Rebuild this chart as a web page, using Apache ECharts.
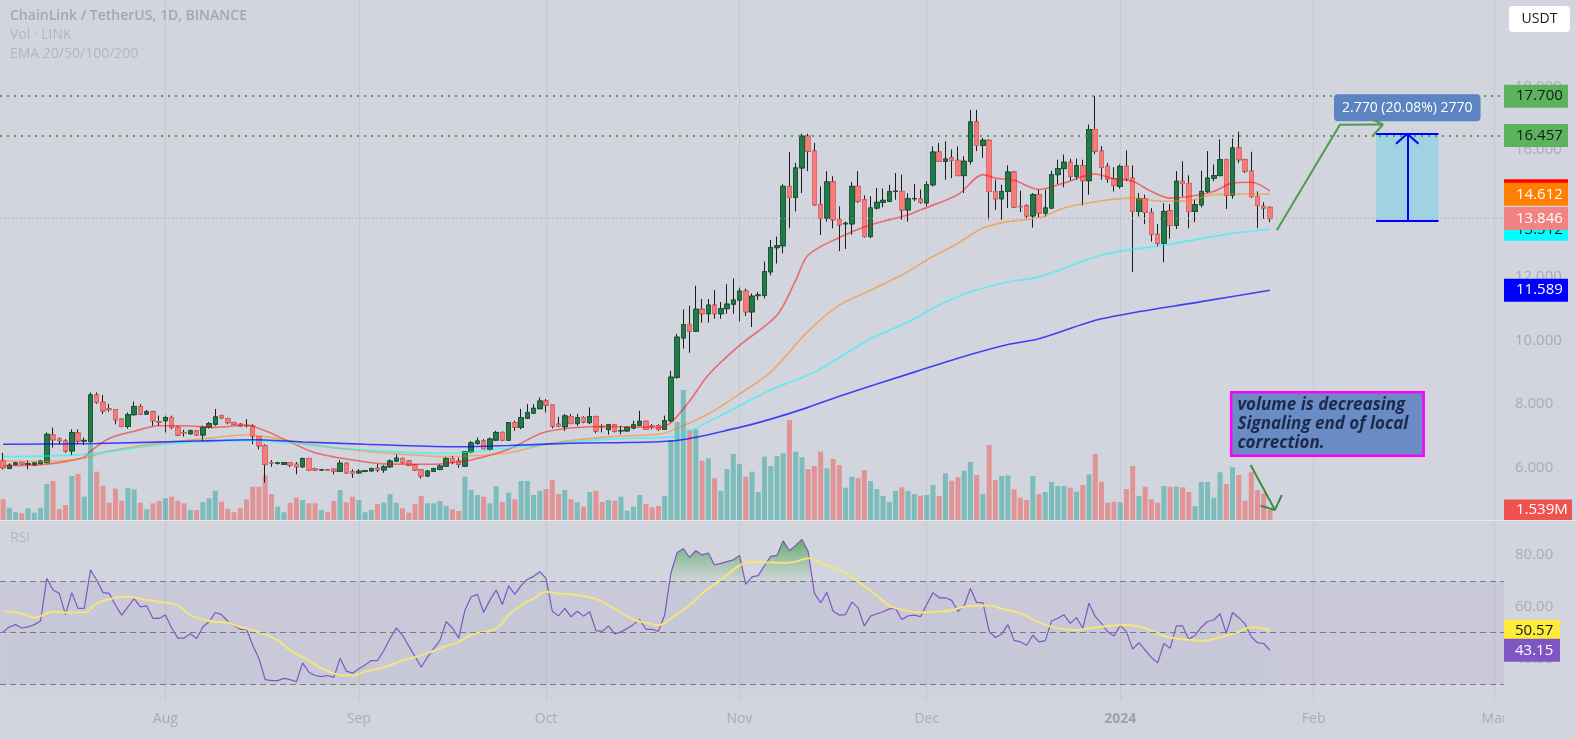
<!DOCTYPE html>
<html>
<head>
<meta charset="utf-8">
<script src="https://cdn.jsdelivr.net/npm/echarts@6/dist/echarts.min.js"></script>
<style>
html,body{margin:0;padding:0;background:#d2d5dd;}
#c{width:1576px;height:739px;}
</style>
</head>
<body>
<div id="c"></div>
<script>
const FONT = "'Open Sans', 'Liberation Sans', sans-serif";
const BG = '#d2d5dd';

// ---- data ----
const startDate = '2023-07-06';
const categoryCount = 241;

const opens = [
6.21,5.98,6.10,6.16,6.11,6.09,6.13,6.16,7.03,6.90,
6.84,6.53,7.09,6.84,6.82,8.29,8.06,7.85,7.83,7.53,
7.30,7.67,7.92,7.69,7.76,7.45,7.48,7.58,7.27,7.11,
7.07,7.16,7.03,7.27,7.37,7.64,7.55,7.42,7.37,7.33,
7.32,6.98,6.69,6.16,6.14,6.11,6.16,6.11,6.03,6.29,
5.97,5.93,5.93,5.95,5.89,6.14,5.87,5.84,5.89,5.90,
5.98,5.93,6.03,6.21,6.29,6.21,6.08,5.93,5.74,5.89,
5.95,6.05,6.29,6.21,6.05,6.50,6.76,6.84,6.58,6.87,
7.11,6.87,7.42,7.27,7.56,7.72,7.86,8.10,7.97,7.37,
7.29,7.61,7.39,7.58,7.42,7.61,7.30,7.20,7.35,7.16,
7.16,7.25,7.34,7.46,7.31,7.32,7.21,7.48,8.85,10.09,
10.51,10.30,10.99,10.85,11.12,10.85,11.01,11.15,11.28,11.56,
10.91,11.42,11.43,12.17,12.93,12.99,14.86,14.51,15.44,16.44,
15.97,14.28,13.86,15.00,13.81,13.68,13.68,14.86,14.44,13.28,
14.18,14.36,14.39,14.70,14.70,14.12,14.47,14.46,14.34,14.91,
15.94,15.65,15.76,15.68,15.20,15.65,16.89,16.15,16.31,14.70,
14.47,14.70,15.31,14.23,14.25,13.93,14.60,14.02,14.18,15.23,
15.42,15.62,15.18,15.51,15.04,16.65,15.97,15.49,15.10,14.86,
15.49,15.12,14.07,14.47,14.04,13.35,13.07,14.09,13.63,15.02,
14.95,14.07,14.28,14.70,15.12,15.20,15.70,14.58,16.07,15.70,
15.34,14.54,14.23,14.20];

const closes = [
6.00,6.08,6.15,6.12,6.12,6.15,6.21,7.05,6.88,6.85,
6.53,7.11,6.84,6.86,8.29,8.06,7.79,7.83,7.51,7.30,
7.67,7.93,7.69,7.76,7.48,7.44,7.58,7.27,7.03,7.10,
7.16,7.03,7.27,7.39,7.60,7.57,7.42,7.37,7.32,7.32,
7.00,6.69,6.11,6.15,6.15,6.16,6.08,6.03,6.29,5.93,
5.93,5.94,5.92,5.89,6.14,5.84,5.82,5.89,5.90,5.97,
5.93,6.03,6.21,6.30,6.16,6.08,5.93,5.74,5.89,5.97,
6.05,6.29,6.18,6.11,6.50,6.78,6.84,6.60,6.90,7.11,
6.87,7.42,7.28,7.58,7.74,7.87,8.10,7.97,7.31,7.31,
7.63,7.39,7.58,7.44,7.61,7.16,7.29,7.35,7.15,7.17,
7.27,7.35,7.46,7.21,7.30,7.21,7.48,8.85,10.11,10.51,
10.30,10.99,10.85,11.12,10.85,11.01,11.15,11.28,11.56,10.91,
11.40,11.44,12.17,12.93,12.99,14.86,14.51,15.44,16.44,15.97,
14.28,13.86,15.00,13.81,13.65,13.70,14.86,14.39,13.28,14.18,
14.36,14.42,14.70,14.71,14.12,14.47,14.48,14.36,14.91,15.94,
15.65,15.72,15.68,15.20,15.65,16.89,16.15,16.31,14.70,14.47,
14.70,15.31,14.21,14.22,13.93,14.60,14.02,14.18,15.23,15.42,
15.62,15.18,15.51,15.04,16.65,15.97,15.46,15.10,14.89,15.49,
15.10,14.07,14.47,14.04,13.35,13.07,14.07,13.63,15.02,14.95,
14.07,14.28,14.70,15.12,15.20,15.70,14.58,16.07,15.70,15.34,
14.54,14.26,14.18,13.846];

const lows = [
5.95,5.95,6.07,6.10,5.95,6.06,6.10,6.14,6.63,6.74,
6.47,6.39,6.74,6.71,6.79,8.01,7.69,7.76,7.37,7.27,
7.23,7.64,7.66,7.66,7.32,7.32,7.11,7.21,7.00,6.98,
7.04,7.01,6.84,7.23,7.32,7.55,7.37,7.35,7.30,7.27,
6.74,6.58,5.53,6.03,6.10,6.09,6.01,5.79,6.00,5.90,
5.90,5.90,5.90,5.79,5.86,5.82,5.68,5.80,5.86,5.88,
5.86,5.84,6.00,6.18,6.13,6.05,5.90,5.66,5.70,5.86,
5.92,6.03,6.11,6.00,6.03,6.45,6.73,6.58,6.53,6.84,
6.84,6.84,7.16,7.21,7.53,7.69,7.84,7.74,7.24,7.29,
7.16,7.37,7.32,7.40,7.37,7.09,7.11,7.04,7.11,7.05,
7.13,7.21,7.32,7.19,7.21,7.16,7.19,7.42,8.80,9.75,
9.62,10.28,10.57,10.57,10.69,10.69,10.85,10.85,10.61,10.78,
10.43,11.28,11.33,12.06,12.43,12.75,13.54,14.07,14.65,15.34,
14.25,13.33,13.75,13.54,12.82,12.89,13.33,14.34,13.25,13.23,
14.13,14.20,14.36,14.44,13.81,13.75,14.39,14.31,14.23,14.86,
15.63,15.07,15.12,15.18,14.65,15.55,15.97,15.76,13.81,14.12,
13.81,14.18,14.18,14.05,13.86,13.56,13.88,13.91,14.15,14.93,
14.83,15.04,15.07,14.26,14.60,15.88,15.07,14.97,14.70,14.79,
15.02,12.16,13.91,13.67,13.12,12.96,12.47,13.21,13.52,14.54,
13.54,13.73,14.20,14.65,15.02,15.18,14.15,14.47,15.60,15.28,
14.50,13.54,13.84,13.73];

const highs = [
6.47,6.14,6.18,6.19,6.23,6.18,6.24,7.11,7.26,6.95,
6.90,7.21,7.21,6.95,8.37,8.37,8.29,8.01,7.83,7.53,
7.74,8.08,8.00,7.82,7.79,7.64,7.64,7.64,7.32,7.19,
7.20,7.18,7.32,7.44,7.85,7.67,7.58,7.45,7.40,7.53,
7.37,7.00,6.74,6.24,6.18,6.18,6.18,6.18,6.32,6.32,
6.00,5.96,5.95,5.97,6.24,6.16,5.95,5.95,5.93,6.00,
6.11,6.08,6.26,6.42,6.32,6.24,6.10,5.95,5.93,6.00,
6.10,6.34,6.37,6.32,6.50,6.84,6.95,6.90,6.95,7.16,
7.14,7.42,7.48,7.85,8.00,8.00,8.21,8.16,7.97,7.60,
7.69,7.69,7.69,7.62,7.90,7.64,7.37,7.38,7.38,7.32,
7.30,7.48,7.79,7.48,7.37,7.37,7.64,9.05,10.22,10.99,
11.10,11.73,11.31,11.31,11.59,11.22,11.78,11.96,11.67,11.64,
11.49,11.54,12.49,13.17,13.28,14.93,15.94,15.60,16.52,16.52,
16.23,14.86,15.34,15.18,14.23,13.75,15.00,15.34,14.58,14.55,
14.81,14.79,14.91,15.28,15.23,14.65,14.93,14.76,15.02,16.12,
16.23,16.28,16.02,16.12,15.81,17.27,17.27,16.39,16.34,15.07,
14.91,15.52,15.33,14.72,14.30,14.65,14.76,14.76,15.35,15.70,
15.86,15.73,15.73,15.70,16.81,17.70,16.13,15.60,15.46,15.55,
15.99,15.52,14.65,14.60,14.18,13.67,14.33,14.30,15.34,15.65,
15.21,14.44,15.35,15.97,15.55,16.34,15.73,16.37,16.58,15.73,
15.95,14.70,14.36,14.22];

// volume, millions of LINK
const volumes = [
3.19,1.89,1.19,1.03,1.80,1.12,1.89,5.54,6.01,1.69,
2.31,6.78,7.08,3.59,11.70,7.44,5.28,2.66,4.82,2.97,
4.93,4.73,2.66,1.65,2.57,2.93,3.34,3.59,2.97,2.57,
1.54,1.54,2.73,3.34,4.51,2.82,1.74,1.19,1.80,3.19,
5.13,5.13,6.88,4.00,2.05,1.19,2.66,3.43,3.08,2.57,
2.57,1.54,1.19,2.93,4.62,2.73,3.59,3.08,1.19,1.54,
2.46,2.66,4.00,2.66,1.80,1.12,2.46,3.70,2.57,2.57,
2.93,2.16,1.65,1.39,6.67,4.62,3.85,3.59,2.57,5.24,
2.77,4.20,3.19,6.01,6.01,3.85,4.51,4.77,6.16,4.00,
4.62,3.19,2.73,2.05,4.31,4.51,2.77,3.08,2.97,3.59,
1.43,2.05,3.85,2.46,1.96,2.16,3.70,12.32,15.09,20.02,
13.86,13.97,9.13,9.50,6.42,4.51,7.85,10.16,8.62,6.67,
7.44,4.31,9.75,8.32,9.86,10.27,15.40,10.52,9.66,7.85,
8.32,10.52,7.96,9.39,8.47,4.97,6.67,6.42,7.70,6.01,
4.77,3.70,2.77,4.47,5.04,4.47,4.00,3.74,3.85,5.39,
3.70,7.19,6.05,6.58,7.59,8.93,6.93,4.00,11.55,6.16,
6.78,6.88,4.73,3.43,3.08,6.78,4.00,4.31,5.85,5.24,
5.24,4.97,4.36,5.39,7.04,10.16,5.90,2.66,2.82,2.73,
4.77,8.32,3.70,5.13,3.19,2.66,5.24,5.13,5.13,5.04,
4.31,2.16,5.85,5.85,3.43,7.35,5.54,8.12,6.93,2.97,
7.35,4.62,4.11,1.539];

const rsiValues = [
50.3,52.2,53.1,51.8,52.2,53.1,54.5,71.0,66.5,65.2,
57.0,65.5,59.4,59.4,74.3,70.4,65.5,65.2,60.6,56.8,
60.0,63.2,60.0,60.4,55.5,55.5,56.8,51.8,47.9,47.9,
49.6,47.7,52.2,54.2,57.8,57.0,54.4,52.9,51.3,51.3,
45.1,39.9,31.8,31.4,31.4,32.3,31.8,31.0,38.3,34.7,
33.4,33.0,33.4,32.7,40.1,35.1,34.3,36.0,37.5,39.2,
39.2,43.1,47.7,51.8,49.0,44.8,40.8,36.6,40.5,43.8,
47.0,54.2,51.8,47.9,58.7,63.9,64.8,57.8,62.6,66.5,
60.9,68.1,64.8,68.2,70.6,71.8,73.6,71.0,58.3,56.5,
59.4,56.1,58.3,56.4,58.1,50.8,50.5,52.6,49.5,50.3,
51.6,53.2,55.1,51.3,51.3,50.5,56.8,73.0,81.0,82.5,
79.1,81.7,80.1,80.8,76.2,76.8,77.5,78.2,79.9,68.7,
71.6,72.1,76.0,79.5,79.9,85.6,81.7,83.8,86.1,81.4,
65.2,61.6,65.6,58.3,56.8,57.0,61.9,59.6,52.6,56.4,
57.3,58.1,59.2,59.4,55.1,56.5,56.8,56.2,60.9,65.5,
63.5,63.5,62.5,58.3,60.4,67.1,61.7,61.6,50.5,48.1,
49.4,53.1,47.0,46.4,45.1,49.0,46.4,46.9,54.5,55.6,
56.9,53.6,55.8,51.7,61.4,56.2,53.6,50.3,48.7,52.7,
50.4,43.6,46.1,43.2,40.4,38.3,45.8,43.9,52.6,52.6,
47.4,49.0,52.1,54.3,54.9,57.3,49.7,57.8,55.8,53.4,
48.4,46.1,45.8,43.15];

// indicator lines read at sample bars: [bar index, value]
const rsiMA = [[0,58.3],[3,57.4],[5,55.8],[8,58.1],[10,57.8],[13,57.8],[15,61.3],[18,63.5],[20,63.9],[23,62.6],[26,61.6],[28,60.6],[30,56.8],[33,54.5],[36,53.8],[38,52.2],[41,50.3],[44,47.0],[46,43.1],[49,39.2],[51,36.3],[54,33.6],[56,33.4],[58,34.9],[61,36.6],[64,39.2],[67,41.2],[71,44.8],[73,46.4],[75,49.2],[79,51.6],[81,56.8],[83,60.6],[85,63.2],[87,65.8],[89,65.2],[92,64.5],[95,63.0],[97,60.6],[99,57.8],[101,55.1],[103,53.8],[105,52.9],[107,55.5],[110,60.6],[112,65.2],[114,68.7],[116,72.3],[118,76.0],[120,77.5],[122,77.3],[125,77.0],[127,77.5],[129,78.8],[131,76.9],[134,74.3],[136,71.5],[139,66.3],[142,60.5],[144,59.0],[147,57.8],[150,58.2],[152,58.7],[155,60.4],[158,60.5],[160,59.3],[163,57.5],[166,54.0],[169,51.7],[172,51.0],[174,51.7],[177,52.6],[180,53.0],[183,51.7],[186,48.7],[189,47.4],[192,46.9],[195,48.2],[198,50.4],[200,52.1],[202,51.7],[203,50.57]];

const ema20 = [[0,6.06],[7,6.11],[13,6.33],[14,6.52],[17,6.92],[21,7.15],[25,7.32],[29,7.32],[34,7.27],[39,7.34],[42,7.16],[45,6.90],[50,6.47],[56,6.24],[61,6.12],[66,6.11],[69,6.11],[72,6.16],[75,6.24],[81,6.58],[87,7.13],[97,7.30],[105,7.27],[107,7.42],[110,8.10],[113,8.92],[118,9.85],[124,10.8],[127,11.9],[129,12.7],[134,13.25],[139,13.65],[145,13.96],[147,14.12],[153,14.60],[157,15.23],[159,15.12],[162,15.05],[166,14.76],[170,14.97],[175,15.25],[178,15.10],[181,15.02],[184,14.70],[187,14.49],[190,14.54],[194,14.70],[197,14.97],[200,14.99],[203,14.72]];
const ema50 = [[0,6.21],[7,6.20],[13,6.30],[16,6.48],[21,6.66],[26,6.79],[34,6.95],[39,7.04],[42,6.98],[48,6.77],[53,6.63],[61,6.47],[71,6.35],[81,6.47],[87,6.75],[97,6.97],[105,7.05],[107,7.16],[113,7.69],[118,8.32],[123,9.01],[129,10.3],[134,11.12],[139,11.59],[145,12.17],[148,12.54],[153,13.07],[157,13.55],[161,13.75],[166,13.87],[170,14.18],[176,14.41],[181,14.49],[186,14.39],[190,14.41],[194,14.60],[200,14.62],[203,14.61]];
const ema100 = [[0,6.35],[13,6.42],[26,6.74],[37,6.84],[41,6.84],[46,6.77],[53,6.63],[64,6.49],[71,6.45],[83,6.66],[97,6.90],[107,6.97],[110,7.15],[118,7.95],[123,8.45],[130,9.01],[139,10.06],[145,10.59],[150,11.12],[155,11.54],[161,11.85],[166,12.01],[176,12.70],[186,13.01],[197,13.38],[203,13.51]];
const ema200 = [[0,6.74],[15,6.76],[31,6.84],[40,6.88],[48,6.81],[58,6.74],[72,6.66],[81,6.70],[91,6.77],[107,6.84],[118,7.27],[123,7.53],[129,7.90],[134,8.25],[146,9.01],[153,9.45],[161,9.88],[166,10.06],[176,10.69],[192,11.23],[203,11.59]];

const priceTicks = [6, 8, 10, 12, 14, 16, 18];
const rsiTicks = [40, 60, 80];
const monthNames = {'2023-08':'Aug','2023-09':'Sep','2023-10':'Oct','2023-11':'Nov','2023-12':'Dec','2024-01':'2024','2024-02':'Feb','2024-03':'Mar'};
const levelHigh = 17.7, levelLow = 16.457;
const lastPrice = 13.846;
const lastEma20 = 14.72, lastEma50 = 14.612, lastEma100 = 13.512, lastEma200 = 11.589;
const lastVolume = 1.539, lastRsi = 43.15, lastRsiMA = 50.57;

// ---- categories ----
const dates = [];
(function(){ const t0 = Date.parse(startDate + 'T00:00:00Z'); for (let i = 0; i < categoryCount; i++) dates.push(new Date(t0 + i * 86400000).toISOString().slice(0, 10)); })();
const monthStarts = dates.filter(d => d.endsWith('-01'));

const candleData = opens.map((o, i) => [o, closes[i], lows[i], highs[i]]);
const bodyData = opens.map((o, i) => [o, closes[i], Math.min(o, closes[i]), Math.max(o, closes[i])]);
const volData = volumes.map((v, i) => ({ value: v, itemStyle: { color: closes[i] >= opens[i] ? 'rgba(38,166,154,0.5)' : 'rgba(239,83,80,0.5)' } }));

const HIDDEN = { color: 'rgba(0,0,0,0)', width: 1, type: 'solid' };
function tag(value, text, bg, fg, w, line, pad) {
  return {
    yAxis: value,
    lineStyle: line || HIDDEN,
    label: { show: true, position: 'end', distance: 0, formatter: text, backgroundColor: bg, color: fg,
      fontFamily: FONT, fontSize: 15, lineHeight: 17, padding: pad || [3, 6, 3, 12], width: w || 46, align: 'left', opacity: 1 }
  };
}
function seg(a, b, style) {
  return [{ coord: a, lineStyle: style, label: { show: false } }, { coord: b, lineStyle: style, label: { show: false } }];
}
const blueLine = { color: '#0000ff', width: 2, type: 'solid', opacity: 1 };

const axisLabelColor = '#a9acb5';

const option = {
  backgroundColor: BG,
  animation: false,
  textStyle: { fontFamily: FONT },
  title: [
    { text: 'ChainLink / TetherUS, 1D, BINANCE', left: 10, top: 9, padding: 0, textStyle: { fontFamily: FONT, fontSize: 14, fontWeight: 600, color: '#a4a7b0' } },
    { text: 'Vol · LINK', left: 10, top: 28, padding: 0, textStyle: { fontFamily: FONT, fontSize: 14, fontWeight: 'normal', color: '#b3b6be' } },
    { text: 'EMA 20/50/100/200', left: 10, top: 47, padding: 0, textStyle: { fontFamily: FONT, fontSize: 14, fontWeight: 'normal', color: '#b3b6be' } },
    { text: 'RSI', left: 10, top: 531, padding: 0, textStyle: { fontFamily: FONT, fontSize: 14, fontWeight: 'normal', color: '#b3b6be' } }
  ],
  grid: [
    { left: 0, right: 72, top: 0, height: 520 },
    { left: 0, right: 72, top: 380, height: 140 },
    { left: 0, right: 72, top: 520, height: 181 }
  ],
  xAxis: [
    { type: 'category', gridIndex: 0, data: dates, boundaryGap: true, show: false },
    { type: 'category', gridIndex: 1, data: dates, boundaryGap: true, show: false },
    { type: 'category', gridIndex: 2, data: dates, boundaryGap: true,
      axisLine: { show: false }, axisTick: { show: false }, splitLine: { show: false },
      axisLabel: {
        interval: (i, v) => v.endsWith('-01'),
        formatter: v => { const n = monthNames[v.slice(0, 7)]; if (!v.endsWith('-01') || !n) return ''; return n === '2024' ? '{y|2024}' : n; },
        color: axisLabelColor, fontSize: 14, margin: 11, fontFamily: FONT,
        rich: { y: { fontWeight: 'bold', color: '#9da0a9', fontSize: 14, fontFamily: FONT } }
      } },
    { type: 'value', gridIndex: 0, min: -0.5, max: categoryCount - 0.5, show: false },
    { type: 'value', gridIndex: 2, min: -0.5, max: categoryCount - 0.5, show: false }
  ],
  yAxis: [
    { type: 'value', gridIndex: 0, position: 'right', min: 4.353, max: 20.73,
      splitLine: { show: false }, axisLine: { show: false }, axisTick: { show: false },
      axisLabel: { customValues: priceTicks, formatter: v => v.toFixed(3), color: axisLabelColor, fontSize: 15, margin: 11, fontFamily: FONT } },
    { type: 'value', gridIndex: 1, min: 0, max: 21.56, show: false },
    { type: 'value', gridIndex: 2, position: 'right', min: 23.53, max: 93.62,
      splitLine: { show: false }, axisLine: { show: false }, axisTick: { show: false },
      axisLabel: { customValues: rsiTicks, formatter: v => v.toFixed(2), color: axisLabelColor, fontSize: 15, margin: 11, fontFamily: FONT } }
  ],
  visualMap: [{
    show: false, type: 'continuous', seriesIndex: 15, dimension: 1, min: 70, max: 92,
    inRange: { color: ['rgba(76,175,80,0.02)', 'rgba(46,140,60,0.95)'] },
    outOfRange: { color: 'rgba(0,0,0,0)' }
  }],
  series: [
    // 0 month grid lines (main pane)
    { type: 'line', xAxisIndex: 0, yAxisIndex: 0, data: [], silent: true, z: 0,
      markLine: { symbol: ['none', 'none'], silent: true, label: { show: false },
        lineStyle: { color: 'rgba(120,123,134,0.14)', type: 'solid', width: 1 },
        data: monthStarts.map(d => ({ xAxis: d })) } },
    // 1 volume
    { type: 'bar', xAxisIndex: 1, yAxisIndex: 1, data: volData, barWidth: 5, z: 1, silent: true, clip: false,
      markLine: { symbol: ['none', 'none'], silent: true,
        data: [ tag(lastVolume, '1.539M', '#ef5350', '#ffffff', 49, null, [2, 7, 2, 12]) ] } },
    // 2 candles (wicks)
    { type: 'candlestick', xAxisIndex: 0, yAxisIndex: 0, data: candleData, barWidth: 5, z: 3, silent: true,
      itemStyle: { color: '#22794a', color0: '#f47c7c', borderColor: '#1c1c1c', borderColor0: '#1c1c1c', borderColorDoji: '#1c1c1c', borderWidth: 1 } },
    // 3 candles (bodies)
    { type: 'candlestick', xAxisIndex: 0, yAxisIndex: 0, data: bodyData, barWidth: 5, z: 3, silent: true,
      itemStyle: { color: '#22794a', color0: '#f47c7c', borderColor: '#1a5a36', borderColor0: '#e26a6a', borderColorDoji: '#333333', borderWidth: 1 } },
    // 4-7 EMAs
    { type: 'line', xAxisIndex: 3, yAxisIndex: 0, data: ema20, smooth: 0.3, symbol: 'none', z: 4, silent: true, lineStyle: { color: '#ff0000', opacity: 0.5, width: 1.6 } },
    { type: 'line', xAxisIndex: 3, yAxisIndex: 0, data: ema50, smooth: 0.3, symbol: 'none', z: 4, silent: true, lineStyle: { color: '#ff8000', opacity: 0.5, width: 1.6 } },
    { type: 'line', xAxisIndex: 3, yAxisIndex: 0, data: ema100, smooth: 0.3, symbol: 'none', z: 4, silent: true, lineStyle: { color: '#00ffff', opacity: 0.55, width: 1.6 } },
    { type: 'line', xAxisIndex: 3, yAxisIndex: 0, data: ema200, smooth: 0.3, symbol: 'none', z: 4, silent: true, lineStyle: { color: '#0000ff', opacity: 0.7, width: 1.6 } },
    // 8 main annotations: levels, price tags, measure box, labels
    { type: 'line', xAxisIndex: 3, yAxisIndex: 0, data: [], z: 5, silent: true, clip: false,
      markArea: { silent: true, itemStyle: { color: '#9fd3e1' }, data: [[{ coord: [220, 13.78] }, { coord: [230, 16.52] }]] },
      markLine: { symbol: ['none', 'none'], silent: true,
        data: [
          tag(lastEma20, '14.720', '#ff0000', '#ffffff'),
          tag(lastEma100, '13.512', '#00ffff', '#131722'),
          tag(lastEma200, '11.589', '#0000ff', '#ffffff'),
          tag(lastEma50, '14.612', '#ff8000', '#ffffff'),
          tag(lastPrice, '13.846', '#f28383', '#ffffff', 46, { color: '#e38c8c', type: [1, 3], width: 1, opacity: 1 }),
          tag(levelHigh, '17.700', '#5db35d', '#131722', 46, { color: '#5a9e5a', type: [2, 5], width: 2, opacity: 1 }),
          tag(levelLow, '16.457', '#5db35d', '#131722', 46, { color: '#5a9e5a', type: [2, 5], width: 2, opacity: 1 }),
          seg([220, 16.52], [230, 16.52], blueLine),
          seg([220, 13.78], [230, 13.78], blueLine),
          seg([225, 13.78], [225, 16.52], blueLine)
        ] },
      markPoint: { silent: true, data: [
        { coord: [225, 17.34], symbol: 'circle', symbolSize: 1, itemStyle: { color: 'rgba(0,0,0,0)' },
          label: { show: true, position: 'inside', formatter: '2.770 (20.08%) 2770', backgroundColor: '#5b84c0', color: '#ffffff',
            fontFamily: FONT, fontSize: 14, lineHeight: 17, padding: [5, 8, 5, 8], borderRadius: 4 } },
        { coord: [196.9, 7.376], symbol: 'circle', symbolSize: 1, itemStyle: { color: 'rgba(0,0,0,0)' },
          label: { show: true, position: 'right', distance: 0, formatter: 'volume is decreasing\nSignaling end of local\ncorrection.',
            backgroundColor: '#6a8bc4', borderColor: '#ff00ff', borderWidth: 2.5, padding: [2, 3, 2, 5], width: 182, align: 'left',
            lineHeight: 19, fontSize: 17, fontStyle: 'italic', fontWeight: 'bold', color: '#1b2a4c', fontFamily: FONT, overflow: 'none' } }
      ] } },
    // 9 green arrow shaft
    { type: 'line', xAxisIndex: 3, yAxisIndex: 0, data: [[204.1, 13.48], [214.2, 16.80], [221.1, 16.81]], symbol: 'none', z: 6, silent: true, clip: false,
      lineStyle: { color: '#4f9a4f', width: 2 } },
    // 10 green arrow head
    { type: 'line', xAxisIndex: 3, yAxisIndex: 0, data: [[219.4, 16.44], [221.1, 16.81], [219.6, 16.95]], symbol: 'none', z: 6, silent: true, clip: false,
      lineStyle: { color: '#4f9a4f', width: 2 } },
    // 11 volume arrow shaft
    { type: 'line', xAxisIndex: 3, yAxisIndex: 0, data: [[199.9, 6.085], [203.8, 4.67]], symbol: 'none', z: 6, silent: true, clip: false,
      lineStyle: { color: '#3f8a3f', width: 2 } },
    // 12 volume arrow head
    { type: 'line', xAxisIndex: 3, yAxisIndex: 0, data: [[201.5, 4.80], [203.8, 4.67], [204.9, 5.14]], symbol: 'none', z: 6, silent: true, clip: false,
      lineStyle: { color: '#3f8a3f', width: 2 } },
    // 13 measure arrow chevron
    { type: 'line', xAxisIndex: 3, yAxisIndex: 0, data: [[223.2, 16.20], [225, 16.52], [226.8, 16.20]], symbol: 'none', z: 6, silent: true, clip: false,
      lineStyle: { color: '#0000ff', width: 2 } },
    // 14 month grid lines (RSI pane)
    { type: 'line', xAxisIndex: 2, yAxisIndex: 2, data: [], silent: true, z: 0,
      markLine: { symbol: ['none', 'none'], silent: true, label: { show: false },
        lineStyle: { color: 'rgba(120,123,134,0.14)', type: 'solid', width: 1 },
        data: monthStarts.map(d => ({ xAxis: d })) } },
    // 15 RSI overbought fill
    { type: 'line', xAxisIndex: 2, yAxisIndex: 2, data: rsiValues, symbol: 'none', z: 2, silent: true,
      lineStyle: { opacity: 0, width: 0 }, areaStyle: { origin: 'start', opacity: 1 } },
    // 16 RSI line
    { type: 'line', xAxisIndex: 2, yAxisIndex: 2, data: rsiValues, symbol: 'none', z: 3, silent: true, clip: false,
      lineStyle: { color: '#7e57c2', width: 1.2 },
      markArea: { silent: true, itemStyle: { color: 'rgba(126,87,194,0.09)' }, data: [[{ yAxis: 30 }, { yAxis: 70 }]] },
      markLine: { symbol: ['none', 'none'], silent: true,
        data: [
          { yAxis: 70, lineStyle: { color: '#787b86', type: [6, 4], width: 1 }, label: { show: false } },
          { yAxis: 50, lineStyle: { color: '#787b86', type: [6, 4], width: 1 }, label: { show: false } },
          { yAxis: 30, lineStyle: { color: '#787b86', type: [6, 4], width: 1 }, label: { show: false } },
          tag(lastRsiMA, '50.57', '#ffeb3b', '#131722', 39, null, [3, 6, 3, 11]),
          tag(lastRsi, '43.15', '#7e57c2', '#ffffff', 39, null, [3, 6, 3, 11])
        ] } },
    // 17 RSI-based MA
    { type: 'line', xAxisIndex: 4, yAxisIndex: 2, data: rsiMA, smooth: 0.4, symbol: 'none', z: 4, silent: true,
      lineStyle: { color: '#f3e57a', width: 2 } }
  ],
  graphic: [
    { type: 'line', shape: { x1: 0, y1: 520.5, x2: 1576, y2: 520.5 }, style: { stroke: '#e7e9ee', lineWidth: 1 }, z: 50, silent: true },
    { type: 'rect', shape: { x: 1504, y: 703, width: 72, height: 36 }, style: { fill: BG }, z: 50, silent: true },
    { type: 'group', left: 1509, top: 6, z: 60, silent: true, children: [
      { type: 'rect', shape: { x: 0, y: 0, width: 61, height: 26, r: 4 }, style: { fill: '#ffffff' } },
      { type: 'text', style: { x: 30.5, y: 13, text: 'USDT', fill: '#131722', font: '14px ' + FONT, textAlign: 'center', textVerticalAlign: 'middle' } }
    ] }
  ]
};

const chart = echarts.init(document.getElementById('c'), null, { renderer: 'canvas' });
chart.setOption(option);
</script>
</body>
</html>
